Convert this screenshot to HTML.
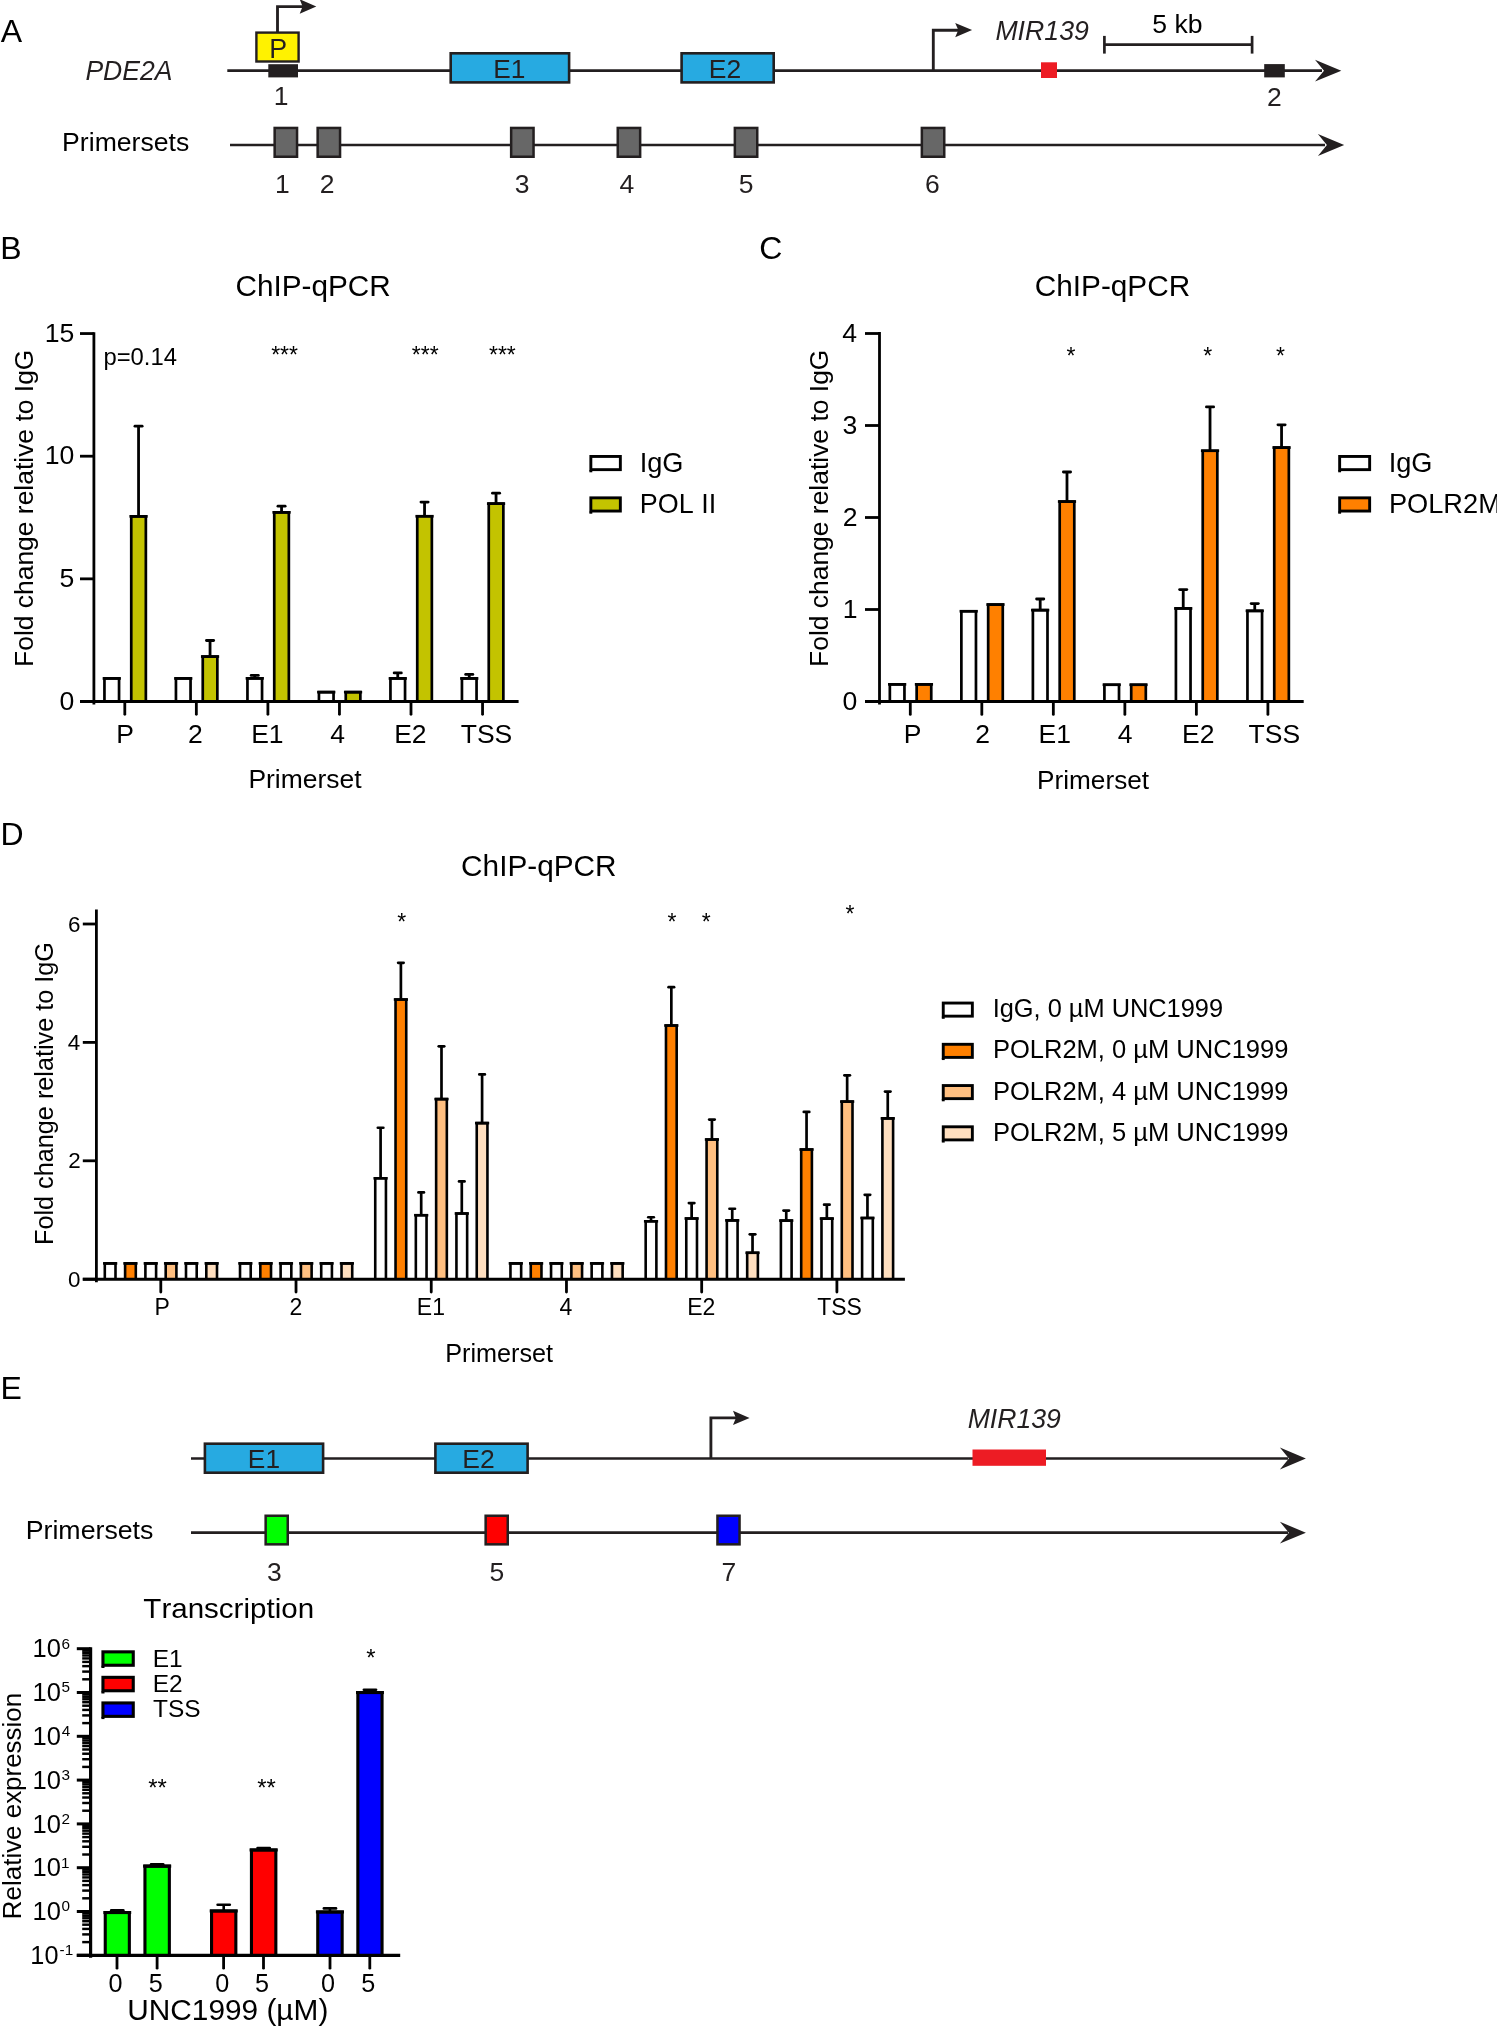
<!DOCTYPE html>
<html><head><meta charset="utf-8"><title>Figure</title>
<style>
html,body{margin:0;padding:0;background:#fff;}
body{width:1497px;height:2027px;overflow:hidden;}
svg{display:block;will-change:transform;}
text{font-family:"Liberation Sans",sans-serif;white-space:pre;font-kerning:none;}
</style></head><body>
<svg width="1497" height="2027" viewBox="0 0 1497 2027">
<rect width="1497" height="2027" fill="#fff"/>
<!-- Panel A -->
<text transform="translate(0.64 41.7) scale(1.0000 1)" font-size="32" fill="#000">A</text>
<text transform="translate(85.38 79.9) scale(0.9652 1)" font-size="27.5" font-style="italic" fill="#231f20">PDE2A</text>
<text transform="translate(62.12 150.7) scale(1.0049 1)" font-size="26.5" fill="#000">Primersets</text>
<line x1="227.3" y1="70.65" x2="1322" y2="70.65" stroke="#231f20" stroke-width="2.7" stroke-linecap="butt"/>
<path d="M1341.3 70.65 L1315 59.75 L1324 70.65 L1315 81.55Z" fill="#231f20"/>
<path d="M277.5 32 V6.55 H304" stroke="#231f20" stroke-width="2.85" fill="none" stroke-linejoin="miter"/>
<path d="M316.3 6.55 L299.7 -0.75 L302.6 6.55 L299.7 13.85Z" fill="#231f20"/>
<rect x="256.4" y="32.6" width="42.2" height="28.9" fill="#fff200" stroke="#231f20" stroke-width="2.4"/>
<text transform="translate(269.27 57.5) scale(1.0000 1)" font-size="26.8" fill="#231f20">P</text>
<rect x="268.3" y="64.2" width="29.7" height="13.2" fill="#231f20"/>
<text transform="translate(273.87 104.6) scale(1.0000 1)" font-size="26.5" fill="#231f20">1</text>
<rect x="450.7" y="53.3" width="118.4" height="29.1" fill="#27aae1" stroke="#231f20" stroke-width="2.6"/>
<text transform="translate(493.14 77.7) scale(1.0000 1)" font-size="26.3" fill="#231f20">E1</text>
<rect x="681.6" y="53.3" width="92.1" height="29.1" fill="#27aae1" stroke="#231f20" stroke-width="2.6"/>
<text transform="translate(708.77 78.3) scale(1.0000 1)" font-size="26.5" fill="#231f20">E2</text>
<path d="M933.3 70.65 V30.2 H959.5" stroke="#231f20" stroke-width="2.85" fill="none" stroke-linejoin="miter"/>
<path d="M972.1 30.1 L955.2 23 L958.3 30.1 L955.2 37.2Z" fill="#231f20"/>
<text transform="translate(995.38 39.6) scale(0.9707 1)" font-size="27.5" font-style="italic" fill="#231f20">MIR139</text>
<rect x="1041" y="62.3" width="16" height="15.7" fill="#ed1c24"/>
<line x1="1104.4" y1="44.7" x2="1252.1" y2="44.7" stroke="#231f20" stroke-width="2.7" stroke-linecap="butt"/>
<line x1="1104.4" y1="35.9" x2="1104.4" y2="53.6" stroke="#231f20" stroke-width="2.7" stroke-linecap="butt"/>
<line x1="1252.1" y1="35.9" x2="1252.1" y2="53.6" stroke="#231f20" stroke-width="2.7" stroke-linecap="butt"/>
<text transform="translate(1152.23 33.1) scale(1.0039 1)" font-size="26.5" fill="#000">5 kb</text>
<rect x="1264.2" y="64.1" width="20.6" height="13.3" fill="#231f20"/>
<text transform="translate(1267.03 106.2) scale(1.0000 1)" font-size="26.5" fill="#231f20">2</text>
<line x1="230" y1="145" x2="1325" y2="145" stroke="#231f20" stroke-width="2.7" stroke-linecap="butt"/>
<path d="M1344.2 145 L1317.9 134.1 L1326.9 145 L1317.9 155.9Z" fill="#231f20"/>
<rect x="274.65" y="127.95" width="22.4" height="28.8" fill="#676767" stroke="#231f20" stroke-width="2.5"/>
<text transform="translate(275.07 192.9) scale(1.0000 1)" font-size="26.5" fill="#231f20">1</text>
<rect x="317.65" y="127.95" width="22.4" height="28.8" fill="#676767" stroke="#231f20" stroke-width="2.5"/>
<text transform="translate(319.83 192.9) scale(1.0000 1)" font-size="26.5" fill="#231f20">2</text>
<rect x="511.15" y="127.95" width="22.4" height="28.8" fill="#676767" stroke="#231f20" stroke-width="2.5"/>
<text transform="translate(514.71 192.9) scale(1.0000 1)" font-size="26.5" fill="#231f20">3</text>
<rect x="617.75" y="127.95" width="22.4" height="28.8" fill="#676767" stroke="#231f20" stroke-width="2.5"/>
<text transform="translate(619.52 192.9) scale(1.0000 1)" font-size="26.5" fill="#231f20">4</text>
<rect x="734.85" y="127.95" width="22.4" height="28.8" fill="#676767" stroke="#231f20" stroke-width="2.5"/>
<text transform="translate(738.86 192.9) scale(1.0000 1)" font-size="26.5" fill="#231f20">5</text>
<rect x="921.85" y="127.95" width="22.4" height="28.8" fill="#676767" stroke="#231f20" stroke-width="2.5"/>
<text transform="translate(925.04 192.9) scale(1.0000 1)" font-size="26.5" fill="#231f20">6</text>
<!-- Panel B -->
<text transform="translate(0.17 259.2) scale(1.0000 1)" font-size="32" fill="#000">B</text>
<text transform="translate(235.49 295.5) scale(0.9949 1)" font-size="29.9" fill="#000">ChIP-qPCR</text>
<text transform="translate(33 666.97) rotate(-90) scale(1.0056 1)" font-size="26.3" fill="#000">Fold change relative to IgG</text>
<text transform="translate(103.46 364.7) scale(1.0095 1)" font-size="23.6" fill="#000">p=0.14</text>
<text transform="translate(271.17 363.3) scale(1.0000 1)" font-size="23" fill="#000">***</text>
<text transform="translate(411.77 363.3) scale(1.0000 1)" font-size="23" fill="#000">***</text>
<text transform="translate(488.97 363.3) scale(1.0000 1)" font-size="23" fill="#000">***</text>
<path d="M104.45 701.5 V678.45 H119.05 V701.5" fill="#fff" stroke="#000" stroke-width="2.7"/>
<line x1="102.65" y1="678.45" x2="120.85" y2="678.45" stroke="#000" stroke-width="2.7" stroke-linecap="butt"/>
<line x1="138.55" y1="426.2" x2="138.55" y2="517.7" stroke="#000" stroke-width="2.8" stroke-linecap="butt"/>
<line x1="134.95" y1="426.2" x2="142.15" y2="426.2" stroke="#000" stroke-width="2.8" stroke-linecap="round"/>
<path d="M131.25 701.5 V516.35 H145.85 V701.5" fill="#c3c300" stroke="#000" stroke-width="2.7"/>
<line x1="129.45" y1="516.35" x2="147.65" y2="516.35" stroke="#000" stroke-width="2.7" stroke-linecap="butt"/>
<path d="M175.95 701.5 V678.45 H190.55 V701.5" fill="#fff" stroke="#000" stroke-width="2.7"/>
<line x1="174.15" y1="678.45" x2="192.35" y2="678.45" stroke="#000" stroke-width="2.7" stroke-linecap="butt"/>
<line x1="210.05" y1="640.5" x2="210.05" y2="657.9" stroke="#000" stroke-width="2.8" stroke-linecap="butt"/>
<line x1="206.45" y1="640.5" x2="213.65" y2="640.5" stroke="#000" stroke-width="2.8" stroke-linecap="round"/>
<path d="M202.75 701.5 V656.55 H217.35 V701.5" fill="#c3c300" stroke="#000" stroke-width="2.7"/>
<line x1="200.95" y1="656.55" x2="219.15" y2="656.55" stroke="#000" stroke-width="2.7" stroke-linecap="butt"/>
<line x1="254.75" y1="675.4" x2="254.75" y2="679.7" stroke="#000" stroke-width="2.8" stroke-linecap="butt"/>
<line x1="251.15" y1="675.4" x2="258.35" y2="675.4" stroke="#000" stroke-width="2.8" stroke-linecap="round"/>
<path d="M247.45 701.5 V678.35 H262.05 V701.5" fill="#fff" stroke="#000" stroke-width="2.7"/>
<line x1="245.65" y1="678.35" x2="263.85" y2="678.35" stroke="#000" stroke-width="2.7" stroke-linecap="butt"/>
<line x1="281.55" y1="506.2" x2="281.55" y2="513.7" stroke="#000" stroke-width="2.8" stroke-linecap="butt"/>
<line x1="277.95" y1="506.2" x2="285.15" y2="506.2" stroke="#000" stroke-width="2.8" stroke-linecap="round"/>
<path d="M274.25 701.5 V512.35 H288.85 V701.5" fill="#c3c300" stroke="#000" stroke-width="2.7"/>
<line x1="272.45" y1="512.35" x2="290.65" y2="512.35" stroke="#000" stroke-width="2.7" stroke-linecap="butt"/>
<path d="M318.95 701.5 V692.15 H333.55 V701.5" fill="#fff" stroke="#000" stroke-width="2.7"/>
<line x1="317.15" y1="692.15" x2="335.35" y2="692.15" stroke="#000" stroke-width="2.7" stroke-linecap="butt"/>
<path d="M345.75 701.5 V692.15 H360.35 V701.5" fill="#c3c300" stroke="#000" stroke-width="2.7"/>
<line x1="343.95" y1="692.15" x2="362.15" y2="692.15" stroke="#000" stroke-width="2.7" stroke-linecap="butt"/>
<line x1="397.75" y1="672.9" x2="397.75" y2="679.8" stroke="#000" stroke-width="2.8" stroke-linecap="butt"/>
<line x1="394.15" y1="672.9" x2="401.35" y2="672.9" stroke="#000" stroke-width="2.8" stroke-linecap="round"/>
<path d="M390.45 701.5 V678.45 H405.05 V701.5" fill="#fff" stroke="#000" stroke-width="2.7"/>
<line x1="388.65" y1="678.45" x2="406.85" y2="678.45" stroke="#000" stroke-width="2.7" stroke-linecap="butt"/>
<line x1="424.55" y1="502.1" x2="424.55" y2="517.6" stroke="#000" stroke-width="2.8" stroke-linecap="butt"/>
<line x1="420.95" y1="502.1" x2="428.15" y2="502.1" stroke="#000" stroke-width="2.8" stroke-linecap="round"/>
<path d="M417.25 701.5 V516.25 H431.85 V701.5" fill="#c3c300" stroke="#000" stroke-width="2.7"/>
<line x1="415.45" y1="516.25" x2="433.65" y2="516.25" stroke="#000" stroke-width="2.7" stroke-linecap="butt"/>
<line x1="469.25" y1="674.4" x2="469.25" y2="679.8" stroke="#000" stroke-width="2.8" stroke-linecap="butt"/>
<line x1="465.65" y1="674.4" x2="472.85" y2="674.4" stroke="#000" stroke-width="2.8" stroke-linecap="round"/>
<path d="M461.95 701.5 V678.45 H476.55 V701.5" fill="#fff" stroke="#000" stroke-width="2.7"/>
<line x1="460.15" y1="678.45" x2="478.35" y2="678.45" stroke="#000" stroke-width="2.7" stroke-linecap="butt"/>
<line x1="496.05" y1="493.2" x2="496.05" y2="505" stroke="#000" stroke-width="2.8" stroke-linecap="butt"/>
<line x1="492.45" y1="493.2" x2="499.65" y2="493.2" stroke="#000" stroke-width="2.8" stroke-linecap="round"/>
<path d="M488.75 701.5 V503.65 H503.35 V701.5" fill="#c3c300" stroke="#000" stroke-width="2.7"/>
<line x1="486.95" y1="503.65" x2="505.15" y2="503.65" stroke="#000" stroke-width="2.7" stroke-linecap="butt"/>
<line x1="93.9" y1="332.15" x2="93.9" y2="704.5" stroke="#000" stroke-width="2.8" stroke-linecap="butt"/>
<line x1="80" y1="701.5" x2="518.6" y2="701.5" stroke="#000" stroke-width="3" stroke-linecap="butt"/>
<line x1="80" y1="701.5" x2="93.9" y2="701.5" stroke="#000" stroke-width="2.8" stroke-linecap="butt"/>
<text transform="translate(59.45 709.7) scale(1.0000 1)" font-size="26.6" fill="#000">0</text>
<line x1="80" y1="578.85" x2="93.9" y2="578.85" stroke="#000" stroke-width="2.8" stroke-linecap="butt"/>
<text transform="translate(59.52 587.05) scale(1.0000 1)" font-size="26.6" fill="#000">5</text>
<line x1="80" y1="456.2" x2="93.9" y2="456.2" stroke="#000" stroke-width="2.8" stroke-linecap="butt"/>
<text transform="translate(44.65 464.4) scale(1.0000 1)" font-size="26.6" fill="#000">10</text>
<line x1="80" y1="333.55" x2="93.9" y2="333.55" stroke="#000" stroke-width="2.8" stroke-linecap="butt"/>
<text transform="translate(44.73 341.75) scale(1.0000 1)" font-size="26.6" fill="#000">15</text>
<line x1="124.8" y1="702.9" x2="124.8" y2="714.3" stroke="#000" stroke-width="2.8" stroke-linecap="round"/>
<text transform="translate(116.27 743) scale(1.0000 1)" font-size="26.5" fill="#000">P</text>
<line x1="196.35" y1="702.9" x2="196.35" y2="714.3" stroke="#000" stroke-width="2.8" stroke-linecap="round"/>
<text transform="translate(187.98 743) scale(1.0000 1)" font-size="26.5" fill="#000">2</text>
<line x1="267.9" y1="702.9" x2="267.9" y2="714.3" stroke="#000" stroke-width="2.8" stroke-linecap="round"/>
<text transform="translate(251.15 743) scale(1.0000 1)" font-size="26.5" fill="#000">E1</text>
<line x1="339.45" y1="702.9" x2="339.45" y2="714.3" stroke="#000" stroke-width="2.8" stroke-linecap="round"/>
<text transform="translate(330.17 743) scale(1.0000 1)" font-size="26.5" fill="#000">4</text>
<line x1="411" y1="702.9" x2="411" y2="714.3" stroke="#000" stroke-width="2.8" stroke-linecap="round"/>
<text transform="translate(394.17 743) scale(1.0000 1)" font-size="26.5" fill="#000">E2</text>
<line x1="482.55" y1="702.9" x2="482.55" y2="714.3" stroke="#000" stroke-width="2.8" stroke-linecap="round"/>
<text transform="translate(460.69 743) scale(1.0000 1)" font-size="26.5" fill="#000">TSS</text>
<text transform="translate(248.43 787.9) scale(1.0019 1)" font-size="26.4" fill="#000">Primerset</text>
<rect x="590.85" y="456.45" width="29.5" height="13.2" fill="#fff" stroke="#000" stroke-width="2.9"/>
<line x1="590.85" y1="470.1" x2="590.85" y2="472.3" stroke="#000" stroke-width="2.9" stroke-linecap="butt"/>
<rect x="590.85" y="497.85" width="29.5" height="13.2" fill="#c3c300" stroke="#000" stroke-width="2.9"/>
<line x1="590.85" y1="511.5" x2="590.85" y2="513.7" stroke="#000" stroke-width="2.9" stroke-linecap="butt"/>
<text transform="translate(639.69 471.6) scale(1.0000 1)" font-size="27.2" fill="#000">IgG</text>
<text transform="translate(639.79 513) scale(0.9909 1)" font-size="27.2" fill="#000">POL II</text>
<!-- Panel C -->
<text transform="translate(759.27 259.2) scale(1.0000 1)" font-size="32" fill="#000">C</text>
<text transform="translate(1034.69 295.5) scale(0.9962 1)" font-size="29.9" fill="#000">ChIP-qPCR</text>
<text transform="translate(828 666.97) rotate(-90) scale(1.0056 1)" font-size="26.3" fill="#000">Fold change relative to IgG</text>
<text transform="translate(1066.42 363.8) scale(1.0000 1)" font-size="23" fill="#000">*</text>
<text transform="translate(1203.22 363.8) scale(1.0000 1)" font-size="23" fill="#000">*</text>
<text transform="translate(1276.12 363.8) scale(1.0000 1)" font-size="23" fill="#000">*</text>
<path d="M889.85 701.5 V684.35 H904.45 V701.5" fill="#fff" stroke="#000" stroke-width="2.7"/>
<line x1="888.05" y1="684.35" x2="906.25" y2="684.35" stroke="#000" stroke-width="2.7" stroke-linecap="butt"/>
<path d="M916.65 701.5 V684.35 H931.25 V701.5" fill="#ff8000" stroke="#000" stroke-width="2.7"/>
<line x1="914.85" y1="684.35" x2="933.05" y2="684.35" stroke="#000" stroke-width="2.7" stroke-linecap="butt"/>
<path d="M961.37 701.5 V611.25 H975.97 V701.5" fill="#fff" stroke="#000" stroke-width="2.7"/>
<line x1="959.57" y1="611.25" x2="977.77" y2="611.25" stroke="#000" stroke-width="2.7" stroke-linecap="butt"/>
<path d="M988.17 701.5 V604.55 H1002.77 V701.5" fill="#ff8000" stroke="#000" stroke-width="2.7"/>
<line x1="986.37" y1="604.55" x2="1004.57" y2="604.55" stroke="#000" stroke-width="2.7" stroke-linecap="butt"/>
<line x1="1040.19" y1="599" x2="1040.19" y2="611.5" stroke="#000" stroke-width="2.8" stroke-linecap="butt"/>
<line x1="1036.59" y1="599" x2="1043.79" y2="599" stroke="#000" stroke-width="2.8" stroke-linecap="round"/>
<path d="M1032.89 701.5 V610.15 H1047.49 V701.5" fill="#fff" stroke="#000" stroke-width="2.7"/>
<line x1="1031.09" y1="610.15" x2="1049.29" y2="610.15" stroke="#000" stroke-width="2.7" stroke-linecap="butt"/>
<line x1="1066.99" y1="472" x2="1066.99" y2="502.9" stroke="#000" stroke-width="2.8" stroke-linecap="butt"/>
<line x1="1063.39" y1="472" x2="1070.59" y2="472" stroke="#000" stroke-width="2.8" stroke-linecap="round"/>
<path d="M1059.69 701.5 V501.55 H1074.29 V701.5" fill="#ff8000" stroke="#000" stroke-width="2.7"/>
<line x1="1057.89" y1="501.55" x2="1076.09" y2="501.55" stroke="#000" stroke-width="2.7" stroke-linecap="butt"/>
<path d="M1104.41 701.5 V684.75 H1119.01 V701.5" fill="#fff" stroke="#000" stroke-width="2.7"/>
<line x1="1102.61" y1="684.75" x2="1120.81" y2="684.75" stroke="#000" stroke-width="2.7" stroke-linecap="butt"/>
<path d="M1131.21 701.5 V684.75 H1145.81 V701.5" fill="#ff8000" stroke="#000" stroke-width="2.7"/>
<line x1="1129.41" y1="684.75" x2="1147.61" y2="684.75" stroke="#000" stroke-width="2.7" stroke-linecap="butt"/>
<line x1="1183.23" y1="589.6" x2="1183.23" y2="609.8" stroke="#000" stroke-width="2.8" stroke-linecap="butt"/>
<line x1="1179.63" y1="589.6" x2="1186.83" y2="589.6" stroke="#000" stroke-width="2.8" stroke-linecap="round"/>
<path d="M1175.93 701.5 V608.45 H1190.53 V701.5" fill="#fff" stroke="#000" stroke-width="2.7"/>
<line x1="1174.13" y1="608.45" x2="1192.33" y2="608.45" stroke="#000" stroke-width="2.7" stroke-linecap="butt"/>
<line x1="1210.03" y1="406.9" x2="1210.03" y2="452.1" stroke="#000" stroke-width="2.8" stroke-linecap="butt"/>
<line x1="1206.43" y1="406.9" x2="1213.63" y2="406.9" stroke="#000" stroke-width="2.8" stroke-linecap="round"/>
<path d="M1202.73 701.5 V450.75 H1217.33 V701.5" fill="#ff8000" stroke="#000" stroke-width="2.7"/>
<line x1="1200.93" y1="450.75" x2="1219.13" y2="450.75" stroke="#000" stroke-width="2.7" stroke-linecap="butt"/>
<line x1="1254.75" y1="603.6" x2="1254.75" y2="612.2" stroke="#000" stroke-width="2.8" stroke-linecap="butt"/>
<line x1="1251.15" y1="603.6" x2="1258.35" y2="603.6" stroke="#000" stroke-width="2.8" stroke-linecap="round"/>
<path d="M1247.45 701.5 V610.85 H1262.05 V701.5" fill="#fff" stroke="#000" stroke-width="2.7"/>
<line x1="1245.65" y1="610.85" x2="1263.85" y2="610.85" stroke="#000" stroke-width="2.7" stroke-linecap="butt"/>
<line x1="1281.55" y1="424.8" x2="1281.55" y2="448.9" stroke="#000" stroke-width="2.8" stroke-linecap="butt"/>
<line x1="1277.95" y1="424.8" x2="1285.15" y2="424.8" stroke="#000" stroke-width="2.8" stroke-linecap="round"/>
<path d="M1274.25 701.5 V447.55 H1288.85 V701.5" fill="#ff8000" stroke="#000" stroke-width="2.7"/>
<line x1="1272.45" y1="447.55" x2="1290.65" y2="447.55" stroke="#000" stroke-width="2.7" stroke-linecap="butt"/>
<line x1="879.5" y1="332.1" x2="879.5" y2="704.5" stroke="#000" stroke-width="2.8" stroke-linecap="butt"/>
<line x1="865" y1="701.5" x2="1303.7" y2="701.5" stroke="#000" stroke-width="3" stroke-linecap="butt"/>
<line x1="865" y1="701.5" x2="879.5" y2="701.5" stroke="#000" stroke-width="2.8" stroke-linecap="butt"/>
<text transform="translate(842.45 709.7) scale(1.0000 1)" font-size="26.6" fill="#000">0</text>
<line x1="865" y1="609.5" x2="879.5" y2="609.5" stroke="#000" stroke-width="2.8" stroke-linecap="butt"/>
<text transform="translate(842.71 617.7) scale(1.0000 1)" font-size="26.6" fill="#000">1</text>
<line x1="865" y1="517.5" x2="879.5" y2="517.5" stroke="#000" stroke-width="2.8" stroke-linecap="butt"/>
<text transform="translate(842.74 525.7) scale(1.0000 1)" font-size="26.6" fill="#000">2</text>
<line x1="865" y1="425.5" x2="879.5" y2="425.5" stroke="#000" stroke-width="2.8" stroke-linecap="butt"/>
<text transform="translate(842.58 433.7) scale(1.0000 1)" font-size="26.6" fill="#000">3</text>
<line x1="865" y1="333.5" x2="879.5" y2="333.5" stroke="#000" stroke-width="2.8" stroke-linecap="butt"/>
<text transform="translate(842.19 341.7) scale(1.0000 1)" font-size="26.6" fill="#000">4</text>
<line x1="910.3" y1="702.9" x2="910.3" y2="714.4" stroke="#000" stroke-width="2.8" stroke-linecap="round"/>
<text transform="translate(903.77 743) scale(1.0000 1)" font-size="26.5" fill="#000">P</text>
<line x1="981.82" y1="702.9" x2="981.82" y2="714.4" stroke="#000" stroke-width="2.8" stroke-linecap="round"/>
<text transform="translate(975.15 743) scale(1.0000 1)" font-size="26.5" fill="#000">2</text>
<line x1="1053.34" y1="702.9" x2="1053.34" y2="714.4" stroke="#000" stroke-width="2.8" stroke-linecap="round"/>
<text transform="translate(1038.59 743) scale(1.0000 1)" font-size="26.5" fill="#000">E1</text>
<line x1="1124.86" y1="702.9" x2="1124.86" y2="714.4" stroke="#000" stroke-width="2.8" stroke-linecap="round"/>
<text transform="translate(1117.78 743) scale(1.0000 1)" font-size="26.5" fill="#000">4</text>
<line x1="1196.38" y1="702.9" x2="1196.38" y2="714.4" stroke="#000" stroke-width="2.8" stroke-linecap="round"/>
<text transform="translate(1181.95 743) scale(1.0000 1)" font-size="26.5" fill="#000">E2</text>
<line x1="1267.9" y1="702.9" x2="1267.9" y2="714.4" stroke="#000" stroke-width="2.8" stroke-linecap="round"/>
<text transform="translate(1248.54 743) scale(1.0000 1)" font-size="26.5" fill="#000">TSS</text>
<text transform="translate(1037.05 788.6) scale(0.9957 1)" font-size="26.3" fill="#000">Primerset</text>
<rect x="1339.65" y="456.45" width="30" height="13.2" fill="#fff" stroke="#000" stroke-width="2.9"/>
<line x1="1339.65" y1="470.1" x2="1339.65" y2="472.3" stroke="#000" stroke-width="2.9" stroke-linecap="butt"/>
<rect x="1339.65" y="497.85" width="30" height="13.2" fill="#ff8000" stroke="#000" stroke-width="2.9"/>
<line x1="1339.65" y1="511.5" x2="1339.65" y2="513.7" stroke="#000" stroke-width="2.9" stroke-linecap="butt"/>
<text transform="translate(1388.69 471.6) scale(1.0000 1)" font-size="27.2" fill="#000">IgG</text>
<text transform="translate(1388.97 512.7) scale(1.0000 1)" font-size="27.2" fill="#000">POLR2M</text>
<!-- Panel D -->
<text transform="translate(0.38 845.4) scale(1.0000 1)" font-size="32" fill="#000">D</text>
<text transform="translate(461.09 875.7) scale(0.9962 1)" font-size="29.9" fill="#000">ChIP-qPCR</text>
<text transform="translate(53 1244.97) rotate(-90) scale(0.9597 1)" font-size="26.3" fill="#000">Fold change relative to IgG</text>
<path d="M104.8 1279.2 V1263.4 H115.5 V1279.2" fill="#fff" stroke="#000" stroke-width="2.6"/>
<line x1="103.05" y1="1263.4" x2="117.25" y2="1263.4" stroke="#000" stroke-width="2.6" stroke-linecap="butt"/>
<path d="M125.1 1279.2 V1263.4 H135.8 V1279.2" fill="#ff8000" stroke="#000" stroke-width="2.6"/>
<line x1="123.35" y1="1263.4" x2="137.55" y2="1263.4" stroke="#000" stroke-width="2.6" stroke-linecap="butt"/>
<path d="M145.4 1279.2 V1263.4 H156.1 V1279.2" fill="#fff" stroke="#000" stroke-width="2.6"/>
<line x1="143.65" y1="1263.4" x2="157.85" y2="1263.4" stroke="#000" stroke-width="2.6" stroke-linecap="butt"/>
<path d="M165.7 1279.2 V1263.4 H176.4 V1279.2" fill="#ffbf80" stroke="#000" stroke-width="2.6"/>
<line x1="163.95" y1="1263.4" x2="178.15" y2="1263.4" stroke="#000" stroke-width="2.6" stroke-linecap="butt"/>
<path d="M186 1279.2 V1263.4 H196.7 V1279.2" fill="#fff" stroke="#000" stroke-width="2.6"/>
<line x1="184.25" y1="1263.4" x2="198.45" y2="1263.4" stroke="#000" stroke-width="2.6" stroke-linecap="butt"/>
<path d="M206.3 1279.2 V1263.4 H217 V1279.2" fill="#ffdfbf" stroke="#000" stroke-width="2.6"/>
<line x1="204.55" y1="1263.4" x2="218.75" y2="1263.4" stroke="#000" stroke-width="2.6" stroke-linecap="butt"/>
<path d="M240.02 1279.2 V1263.4 H250.72 V1279.2" fill="#fff" stroke="#000" stroke-width="2.6"/>
<line x1="238.27" y1="1263.4" x2="252.47" y2="1263.4" stroke="#000" stroke-width="2.6" stroke-linecap="butt"/>
<path d="M260.32 1279.2 V1263.4 H271.02 V1279.2" fill="#ff8000" stroke="#000" stroke-width="2.6"/>
<line x1="258.57" y1="1263.4" x2="272.77" y2="1263.4" stroke="#000" stroke-width="2.6" stroke-linecap="butt"/>
<path d="M280.62 1279.2 V1263.4 H291.32 V1279.2" fill="#fff" stroke="#000" stroke-width="2.6"/>
<line x1="278.87" y1="1263.4" x2="293.07" y2="1263.4" stroke="#000" stroke-width="2.6" stroke-linecap="butt"/>
<path d="M300.92 1279.2 V1263.4 H311.62 V1279.2" fill="#ffbf80" stroke="#000" stroke-width="2.6"/>
<line x1="299.17" y1="1263.4" x2="313.37" y2="1263.4" stroke="#000" stroke-width="2.6" stroke-linecap="butt"/>
<path d="M321.22 1279.2 V1263.4 H331.92 V1279.2" fill="#fff" stroke="#000" stroke-width="2.6"/>
<line x1="319.47" y1="1263.4" x2="333.67" y2="1263.4" stroke="#000" stroke-width="2.6" stroke-linecap="butt"/>
<path d="M341.52 1279.2 V1263.4 H352.22 V1279.2" fill="#ffdfbf" stroke="#000" stroke-width="2.6"/>
<line x1="339.77" y1="1263.4" x2="353.97" y2="1263.4" stroke="#000" stroke-width="2.6" stroke-linecap="butt"/>
<line x1="380.59" y1="1127.75" x2="380.59" y2="1179.6" stroke="#000" stroke-width="2.7" stroke-linecap="butt"/>
<line x1="377.84" y1="1127.75" x2="383.34" y2="1127.75" stroke="#000" stroke-width="2.7" stroke-linecap="round"/>
<path d="M375.24 1279.2 V1178.3 H385.94 V1279.2" fill="#fff" stroke="#000" stroke-width="2.6"/>
<line x1="373.49" y1="1178.3" x2="387.69" y2="1178.3" stroke="#000" stroke-width="2.6" stroke-linecap="butt"/>
<line x1="400.89" y1="962.85" x2="400.89" y2="1000.8" stroke="#000" stroke-width="2.7" stroke-linecap="butt"/>
<line x1="398.14" y1="962.85" x2="403.64" y2="962.85" stroke="#000" stroke-width="2.7" stroke-linecap="round"/>
<path d="M395.54 1279.2 V999.5 H406.24 V1279.2" fill="#ff8000" stroke="#000" stroke-width="2.6"/>
<line x1="393.79" y1="999.5" x2="407.99" y2="999.5" stroke="#000" stroke-width="2.6" stroke-linecap="butt"/>
<line x1="421.19" y1="1192.45" x2="421.19" y2="1216.5" stroke="#000" stroke-width="2.7" stroke-linecap="butt"/>
<line x1="418.44" y1="1192.45" x2="423.94" y2="1192.45" stroke="#000" stroke-width="2.7" stroke-linecap="round"/>
<path d="M415.84 1279.2 V1215.2 H426.54 V1279.2" fill="#fff" stroke="#000" stroke-width="2.6"/>
<line x1="414.09" y1="1215.2" x2="428.29" y2="1215.2" stroke="#000" stroke-width="2.6" stroke-linecap="butt"/>
<line x1="441.49" y1="1046.35" x2="441.49" y2="1100.4" stroke="#000" stroke-width="2.7" stroke-linecap="butt"/>
<line x1="438.74" y1="1046.35" x2="444.24" y2="1046.35" stroke="#000" stroke-width="2.7" stroke-linecap="round"/>
<path d="M436.14 1279.2 V1099.1 H446.84 V1279.2" fill="#ffbf80" stroke="#000" stroke-width="2.6"/>
<line x1="434.39" y1="1099.1" x2="448.59" y2="1099.1" stroke="#000" stroke-width="2.6" stroke-linecap="butt"/>
<line x1="461.79" y1="1181.45" x2="461.79" y2="1214.8" stroke="#000" stroke-width="2.7" stroke-linecap="butt"/>
<line x1="459.04" y1="1181.45" x2="464.54" y2="1181.45" stroke="#000" stroke-width="2.7" stroke-linecap="round"/>
<path d="M456.44 1279.2 V1213.5 H467.14 V1279.2" fill="#fff" stroke="#000" stroke-width="2.6"/>
<line x1="454.69" y1="1213.5" x2="468.89" y2="1213.5" stroke="#000" stroke-width="2.6" stroke-linecap="butt"/>
<line x1="482.09" y1="1074.45" x2="482.09" y2="1124.4" stroke="#000" stroke-width="2.7" stroke-linecap="butt"/>
<line x1="479.34" y1="1074.45" x2="484.84" y2="1074.45" stroke="#000" stroke-width="2.7" stroke-linecap="round"/>
<path d="M476.74 1279.2 V1123.1 H487.44 V1279.2" fill="#ffdfbf" stroke="#000" stroke-width="2.6"/>
<line x1="474.99" y1="1123.1" x2="489.19" y2="1123.1" stroke="#000" stroke-width="2.6" stroke-linecap="butt"/>
<path d="M510.46 1279.2 V1263.4 H521.16 V1279.2" fill="#fff" stroke="#000" stroke-width="2.6"/>
<line x1="508.71" y1="1263.4" x2="522.91" y2="1263.4" stroke="#000" stroke-width="2.6" stroke-linecap="butt"/>
<path d="M530.76 1279.2 V1263.4 H541.46 V1279.2" fill="#ff8000" stroke="#000" stroke-width="2.6"/>
<line x1="529.01" y1="1263.4" x2="543.21" y2="1263.4" stroke="#000" stroke-width="2.6" stroke-linecap="butt"/>
<path d="M551.06 1279.2 V1263.4 H561.76 V1279.2" fill="#fff" stroke="#000" stroke-width="2.6"/>
<line x1="549.31" y1="1263.4" x2="563.51" y2="1263.4" stroke="#000" stroke-width="2.6" stroke-linecap="butt"/>
<path d="M571.36 1279.2 V1263.4 H582.06 V1279.2" fill="#ffbf80" stroke="#000" stroke-width="2.6"/>
<line x1="569.61" y1="1263.4" x2="583.81" y2="1263.4" stroke="#000" stroke-width="2.6" stroke-linecap="butt"/>
<path d="M591.66 1279.2 V1263.4 H602.36 V1279.2" fill="#fff" stroke="#000" stroke-width="2.6"/>
<line x1="589.91" y1="1263.4" x2="604.11" y2="1263.4" stroke="#000" stroke-width="2.6" stroke-linecap="butt"/>
<path d="M611.96 1279.2 V1263.4 H622.66 V1279.2" fill="#ffdfbf" stroke="#000" stroke-width="2.6"/>
<line x1="610.21" y1="1263.4" x2="624.41" y2="1263.4" stroke="#000" stroke-width="2.6" stroke-linecap="butt"/>
<line x1="651.03" y1="1217.25" x2="651.03" y2="1222.6" stroke="#000" stroke-width="2.7" stroke-linecap="butt"/>
<line x1="648.28" y1="1217.25" x2="653.78" y2="1217.25" stroke="#000" stroke-width="2.7" stroke-linecap="round"/>
<path d="M645.68 1279.2 V1221.3 H656.38 V1279.2" fill="#fff" stroke="#000" stroke-width="2.6"/>
<line x1="643.93" y1="1221.3" x2="658.13" y2="1221.3" stroke="#000" stroke-width="2.6" stroke-linecap="butt"/>
<line x1="671.33" y1="987.15" x2="671.33" y2="1026.8" stroke="#000" stroke-width="2.7" stroke-linecap="butt"/>
<line x1="668.58" y1="987.15" x2="674.08" y2="987.15" stroke="#000" stroke-width="2.7" stroke-linecap="round"/>
<path d="M665.98 1279.2 V1025.5 H676.68 V1279.2" fill="#ff8000" stroke="#000" stroke-width="2.6"/>
<line x1="664.23" y1="1025.5" x2="678.43" y2="1025.5" stroke="#000" stroke-width="2.6" stroke-linecap="butt"/>
<line x1="691.63" y1="1203.05" x2="691.63" y2="1219.8" stroke="#000" stroke-width="2.7" stroke-linecap="butt"/>
<line x1="688.88" y1="1203.05" x2="694.38" y2="1203.05" stroke="#000" stroke-width="2.7" stroke-linecap="round"/>
<path d="M686.28 1279.2 V1218.5 H696.98 V1279.2" fill="#fff" stroke="#000" stroke-width="2.6"/>
<line x1="684.53" y1="1218.5" x2="698.73" y2="1218.5" stroke="#000" stroke-width="2.6" stroke-linecap="butt"/>
<line x1="711.93" y1="1119.55" x2="711.93" y2="1140.8" stroke="#000" stroke-width="2.7" stroke-linecap="butt"/>
<line x1="709.18" y1="1119.55" x2="714.68" y2="1119.55" stroke="#000" stroke-width="2.7" stroke-linecap="round"/>
<path d="M706.58 1279.2 V1139.5 H717.28 V1279.2" fill="#ffbf80" stroke="#000" stroke-width="2.6"/>
<line x1="704.83" y1="1139.5" x2="719.03" y2="1139.5" stroke="#000" stroke-width="2.6" stroke-linecap="butt"/>
<line x1="732.23" y1="1208.75" x2="732.23" y2="1221.7" stroke="#000" stroke-width="2.7" stroke-linecap="butt"/>
<line x1="729.48" y1="1208.75" x2="734.98" y2="1208.75" stroke="#000" stroke-width="2.7" stroke-linecap="round"/>
<path d="M726.88 1279.2 V1220.4 H737.58 V1279.2" fill="#fff" stroke="#000" stroke-width="2.6"/>
<line x1="725.13" y1="1220.4" x2="739.33" y2="1220.4" stroke="#000" stroke-width="2.6" stroke-linecap="butt"/>
<line x1="752.53" y1="1234.35" x2="752.53" y2="1254.1" stroke="#000" stroke-width="2.7" stroke-linecap="butt"/>
<line x1="749.78" y1="1234.35" x2="755.28" y2="1234.35" stroke="#000" stroke-width="2.7" stroke-linecap="round"/>
<path d="M747.18 1279.2 V1252.8 H757.88 V1279.2" fill="#ffdfbf" stroke="#000" stroke-width="2.6"/>
<line x1="745.43" y1="1252.8" x2="759.63" y2="1252.8" stroke="#000" stroke-width="2.6" stroke-linecap="butt"/>
<line x1="786.25" y1="1210.55" x2="786.25" y2="1221.9" stroke="#000" stroke-width="2.7" stroke-linecap="butt"/>
<line x1="783.5" y1="1210.55" x2="789" y2="1210.55" stroke="#000" stroke-width="2.7" stroke-linecap="round"/>
<path d="M780.9 1279.2 V1220.6 H791.6 V1279.2" fill="#fff" stroke="#000" stroke-width="2.6"/>
<line x1="779.15" y1="1220.6" x2="793.35" y2="1220.6" stroke="#000" stroke-width="2.6" stroke-linecap="butt"/>
<line x1="806.55" y1="1111.95" x2="806.55" y2="1150.8" stroke="#000" stroke-width="2.7" stroke-linecap="butt"/>
<line x1="803.8" y1="1111.95" x2="809.3" y2="1111.95" stroke="#000" stroke-width="2.7" stroke-linecap="round"/>
<path d="M801.2 1279.2 V1149.5 H811.9 V1279.2" fill="#ff8000" stroke="#000" stroke-width="2.6"/>
<line x1="799.45" y1="1149.5" x2="813.65" y2="1149.5" stroke="#000" stroke-width="2.6" stroke-linecap="butt"/>
<line x1="826.85" y1="1204.65" x2="826.85" y2="1219.9" stroke="#000" stroke-width="2.7" stroke-linecap="butt"/>
<line x1="824.1" y1="1204.65" x2="829.6" y2="1204.65" stroke="#000" stroke-width="2.7" stroke-linecap="round"/>
<path d="M821.5 1279.2 V1218.6 H832.2 V1279.2" fill="#fff" stroke="#000" stroke-width="2.6"/>
<line x1="819.75" y1="1218.6" x2="833.95" y2="1218.6" stroke="#000" stroke-width="2.6" stroke-linecap="butt"/>
<line x1="847.15" y1="1075.35" x2="847.15" y2="1102.9" stroke="#000" stroke-width="2.7" stroke-linecap="butt"/>
<line x1="844.4" y1="1075.35" x2="849.9" y2="1075.35" stroke="#000" stroke-width="2.7" stroke-linecap="round"/>
<path d="M841.8 1279.2 V1101.6 H852.5 V1279.2" fill="#ffbf80" stroke="#000" stroke-width="2.6"/>
<line x1="840.05" y1="1101.6" x2="854.25" y2="1101.6" stroke="#000" stroke-width="2.6" stroke-linecap="butt"/>
<line x1="867.45" y1="1194.85" x2="867.45" y2="1219.3" stroke="#000" stroke-width="2.7" stroke-linecap="butt"/>
<line x1="864.7" y1="1194.85" x2="870.2" y2="1194.85" stroke="#000" stroke-width="2.7" stroke-linecap="round"/>
<path d="M862.1 1279.2 V1218 H872.8 V1279.2" fill="#fff" stroke="#000" stroke-width="2.6"/>
<line x1="860.35" y1="1218" x2="874.55" y2="1218" stroke="#000" stroke-width="2.6" stroke-linecap="butt"/>
<line x1="887.75" y1="1091.55" x2="887.75" y2="1119.7" stroke="#000" stroke-width="2.7" stroke-linecap="butt"/>
<line x1="885" y1="1091.55" x2="890.5" y2="1091.55" stroke="#000" stroke-width="2.7" stroke-linecap="round"/>
<path d="M882.4 1279.2 V1118.4 H893.1 V1279.2" fill="#ffdfbf" stroke="#000" stroke-width="2.6"/>
<line x1="880.65" y1="1118.4" x2="894.85" y2="1118.4" stroke="#000" stroke-width="2.6" stroke-linecap="butt"/>
<text transform="translate(397.22 929.99) scale(1.0000 1)" font-size="23" fill="#000">*</text>
<text transform="translate(667.52 929.99) scale(1.0000 1)" font-size="23" fill="#000">*</text>
<text transform="translate(701.82 929.99) scale(1.0000 1)" font-size="23" fill="#000">*</text>
<text transform="translate(845.42 921.79) scale(1.0000 1)" font-size="23" fill="#000">*</text>
<line x1="96.4" y1="909.4" x2="96.4" y2="1282.2" stroke="#000" stroke-width="2.8" stroke-linecap="butt"/>
<line x1="82.8" y1="1279.2" x2="904.9" y2="1279.2" stroke="#000" stroke-width="3" stroke-linecap="butt"/>
<line x1="82.8" y1="1279.2" x2="96.4" y2="1279.2" stroke="#000" stroke-width="2.8" stroke-linecap="butt"/>
<text transform="translate(67.92 1286.7) scale(1.0000 1)" font-size="22.4" fill="#000">0</text>
<line x1="82.8" y1="1160.8" x2="96.4" y2="1160.8" stroke="#000" stroke-width="2.8" stroke-linecap="butt"/>
<text transform="translate(68.17 1168.3) scale(1.0000 1)" font-size="22.4" fill="#000">2</text>
<line x1="82.8" y1="1042.4" x2="96.4" y2="1042.4" stroke="#000" stroke-width="2.8" stroke-linecap="butt"/>
<text transform="translate(67.7 1049.9) scale(1.0000 1)" font-size="22.4" fill="#000">4</text>
<line x1="82.8" y1="924" x2="96.4" y2="924" stroke="#000" stroke-width="2.8" stroke-linecap="butt"/>
<text transform="translate(68.03 931.5) scale(1.0000 1)" font-size="22.4" fill="#000">6</text>
<line x1="160.8" y1="1280.6" x2="160.8" y2="1292.1" stroke="#000" stroke-width="2.8" stroke-linecap="round"/>
<text transform="translate(154.49 1315.4) scale(1.0000 1)" font-size="23" fill="#000">P</text>
<line x1="296.02" y1="1280.6" x2="296.02" y2="1292.1" stroke="#000" stroke-width="2.8" stroke-linecap="round"/>
<text transform="translate(289.62 1315.4) scale(1.0000 1)" font-size="23" fill="#000">2</text>
<line x1="431.24" y1="1280.6" x2="431.24" y2="1292.1" stroke="#000" stroke-width="2.8" stroke-linecap="round"/>
<text transform="translate(416.79 1315.4) scale(1.0000 1)" font-size="23" fill="#000">E1</text>
<line x1="566.46" y1="1280.6" x2="566.46" y2="1292.1" stroke="#000" stroke-width="2.8" stroke-linecap="round"/>
<text transform="translate(559.44 1315.4) scale(1.0000 1)" font-size="23" fill="#000">4</text>
<line x1="701.68" y1="1280.6" x2="701.68" y2="1292.1" stroke="#000" stroke-width="2.8" stroke-linecap="round"/>
<text transform="translate(687.25 1315.4) scale(1.0000 1)" font-size="23" fill="#000">E2</text>
<line x1="836.9" y1="1280.6" x2="836.9" y2="1292.1" stroke="#000" stroke-width="2.8" stroke-linecap="round"/>
<text transform="translate(817.2 1315.4) scale(1.0000 1)" font-size="23" fill="#000">TSS</text>
<text transform="translate(445.33 1361.9) scale(0.9994 1)" font-size="25.2" fill="#000">Primerset</text>
<rect x="943.25" y="1003.05" width="29.1" height="13.1" fill="#fff" stroke="#000" stroke-width="2.9"/>
<line x1="943.25" y1="1016.6" x2="943.25" y2="1018.8" stroke="#000" stroke-width="2.9" stroke-linecap="butt"/>
<text transform="translate(992.66 1017) scale(0.9953 1)" font-size="25.5" fill="#000">IgG, 0 µM UNC1999</text>
<rect x="943.25" y="1044.3" width="29.1" height="13.1" fill="#ff8000" stroke="#000" stroke-width="2.9"/>
<line x1="943.25" y1="1057.85" x2="943.25" y2="1060.05" stroke="#000" stroke-width="2.9" stroke-linecap="butt"/>
<text transform="translate(992.91 1058) scale(1.0014 1)" font-size="25.5" fill="#000">POLR2M, 0 µM UNC1999</text>
<rect x="943.25" y="1085.55" width="29.1" height="13.1" fill="#ffbf80" stroke="#000" stroke-width="2.9"/>
<line x1="943.25" y1="1099.1" x2="943.25" y2="1101.3" stroke="#000" stroke-width="2.9" stroke-linecap="butt"/>
<text transform="translate(992.91 1099.6) scale(1.0014 1)" font-size="25.5" fill="#000">POLR2M, 4 µM UNC1999</text>
<rect x="943.25" y="1126.8" width="29.1" height="13.1" fill="#ffdfbf" stroke="#000" stroke-width="2.9"/>
<line x1="943.25" y1="1140.35" x2="943.25" y2="1142.55" stroke="#000" stroke-width="2.9" stroke-linecap="butt"/>
<text transform="translate(992.91 1141) scale(1.0014 1)" font-size="25.5" fill="#000">POLR2M, 5 µM UNC1999</text>
<!-- Panel E -->
<text transform="translate(0.58 1399) scale(1.0000 1)" font-size="32" fill="#000">E</text>
<line x1="191" y1="1458.5" x2="1288" y2="1458.5" stroke="#231f20" stroke-width="2.7" stroke-linecap="butt"/>
<path d="M1305.9 1458.5 L1279.9 1447.6 L1288.9 1458.5 L1279.9 1469.4Z" fill="#231f20"/>
<rect x="204.9" y="1443.7" width="118.2" height="29" fill="#27aae1" stroke="#231f20" stroke-width="2.6"/>
<text transform="translate(247.84 1468) scale(1.0000 1)" font-size="26.3" fill="#231f20">E1</text>
<rect x="435.4" y="1443.7" width="92.2" height="29" fill="#27aae1" stroke="#231f20" stroke-width="2.6"/>
<text transform="translate(462.27 1468.2) scale(1.0000 1)" font-size="26.5" fill="#231f20">E2</text>
<path d="M710.9 1458.5 V1417.8 H737" stroke="#231f20" stroke-width="2.85" fill="none" stroke-linejoin="miter"/>
<path d="M749.6 1417.9 L733 1410.8 L735.9 1417.9 L733 1425Z" fill="#231f20"/>
<text transform="translate(967.68 1427.7) scale(0.9686 1)" font-size="27.5" font-style="italic" fill="#231f20">MIR139</text>
<rect x="972.5" y="1449.5" width="73.5" height="16.3" fill="#ed1c24"/>
<line x1="191" y1="1532.7" x2="1288" y2="1532.7" stroke="#231f20" stroke-width="2.7" stroke-linecap="butt"/>
<path d="M1305.9 1532.7 L1279.9 1521.8 L1288.9 1532.7 L1279.9 1543.6Z" fill="#231f20"/>
<text transform="translate(25.71 1539.1) scale(1.0052 1)" font-size="26.6" fill="#000">Primersets</text>
<rect x="265.65" y="1515.75" width="22.1" height="28.6" fill="#00ff00" stroke="#231f20" stroke-width="2.5"/>
<text transform="translate(267.11 1580.6) scale(1.0000 1)" font-size="26.5" fill="#231f20">3</text>
<rect x="485.65" y="1515.75" width="22.1" height="28.6" fill="#ff0000" stroke="#231f20" stroke-width="2.5"/>
<text transform="translate(489.56 1580.6) scale(1.0000 1)" font-size="26.5" fill="#231f20">5</text>
<rect x="717.45" y="1515.75" width="22.1" height="28.6" fill="#0000ff" stroke="#231f20" stroke-width="2.5"/>
<text transform="translate(721.62 1580.6) scale(1.0000 1)" font-size="26.5" fill="#231f20">7</text>
<text transform="translate(143.34 1618.3) scale(1.0441 1)" font-size="28.3" fill="#000">Transcription</text>
<line x1="117.3" y1="1910.4" x2="117.3" y2="1914.1" stroke="#000" stroke-width="2.6" stroke-linecap="butt"/>
<line x1="111.2" y1="1910.4" x2="123.4" y2="1910.4" stroke="#000" stroke-width="2.6" stroke-linecap="round"/>
<path d="M105.25 1955.3 V1912.55 H129.35 V1955.3" fill="#00ff00" stroke="#000" stroke-width="3.1"/>
<line x1="103.4" y1="1912.55" x2="131.2" y2="1912.55" stroke="#000" stroke-width="3.1" stroke-linecap="butt"/>
<line x1="157.15" y1="1864.3" x2="157.15" y2="1867.7" stroke="#000" stroke-width="2.6" stroke-linecap="butt"/>
<line x1="151.05" y1="1864.3" x2="163.25" y2="1864.3" stroke="#000" stroke-width="2.6" stroke-linecap="round"/>
<path d="M144.95 1955.3 V1866.15 H169.35 V1955.3" fill="#00ff00" stroke="#000" stroke-width="3.1"/>
<line x1="143.1" y1="1866.15" x2="171.2" y2="1866.15" stroke="#000" stroke-width="3.1" stroke-linecap="butt"/>
<line x1="223.7" y1="1904.7" x2="223.7" y2="1912.5" stroke="#000" stroke-width="2.6" stroke-linecap="butt"/>
<line x1="217.6" y1="1904.7" x2="229.8" y2="1904.7" stroke="#000" stroke-width="2.6" stroke-linecap="round"/>
<path d="M211.55 1955.3 V1910.95 H235.85 V1955.3" fill="#ff0000" stroke="#000" stroke-width="3.1"/>
<line x1="209.7" y1="1910.95" x2="237.7" y2="1910.95" stroke="#000" stroke-width="3.1" stroke-linecap="butt"/>
<line x1="263.65" y1="1848.1" x2="263.65" y2="1851.5" stroke="#000" stroke-width="2.6" stroke-linecap="butt"/>
<line x1="257.55" y1="1848.1" x2="269.75" y2="1848.1" stroke="#000" stroke-width="2.6" stroke-linecap="round"/>
<path d="M251.45 1955.3 V1849.95 H275.85 V1955.3" fill="#ff0000" stroke="#000" stroke-width="3.1"/>
<line x1="249.6" y1="1849.95" x2="277.7" y2="1849.95" stroke="#000" stroke-width="3.1" stroke-linecap="butt"/>
<line x1="329.95" y1="1908.4" x2="329.95" y2="1913.5" stroke="#000" stroke-width="2.6" stroke-linecap="butt"/>
<line x1="323.85" y1="1908.4" x2="336.05" y2="1908.4" stroke="#000" stroke-width="2.6" stroke-linecap="round"/>
<path d="M317.75 1955.3 V1911.95 H342.15 V1955.3" fill="#0000ff" stroke="#000" stroke-width="3.1"/>
<line x1="315.9" y1="1911.95" x2="344" y2="1911.95" stroke="#000" stroke-width="3.1" stroke-linecap="butt"/>
<line x1="369.95" y1="1689.8" x2="369.95" y2="1694.1" stroke="#000" stroke-width="2.6" stroke-linecap="butt"/>
<line x1="363.85" y1="1689.8" x2="376.05" y2="1689.8" stroke="#000" stroke-width="2.6" stroke-linecap="round"/>
<path d="M357.85 1955.3 V1692.55 H382.05 V1955.3" fill="#0000ff" stroke="#000" stroke-width="3.1"/>
<line x1="356" y1="1692.55" x2="383.9" y2="1692.55" stroke="#000" stroke-width="3.1" stroke-linecap="butt"/>
<line x1="90.6" y1="1647.3" x2="90.6" y2="1957.7" stroke="#000" stroke-width="3.2" stroke-linecap="butt"/>
<line x1="76.8" y1="1955.3" x2="400.2" y2="1955.3" stroke="#000" stroke-width="3.3" stroke-linecap="butt"/>
<line x1="76.8" y1="1955.3" x2="90.6" y2="1955.3" stroke="#000" stroke-width="3" stroke-linecap="butt"/>
<line x1="82.2" y1="1942.11" x2="90.6" y2="1942.11" stroke="#000" stroke-width="2.45" stroke-linecap="butt"/>
<line x1="82.2" y1="1934.4" x2="90.6" y2="1934.4" stroke="#000" stroke-width="2.45" stroke-linecap="butt"/>
<line x1="82.2" y1="1928.93" x2="90.6" y2="1928.93" stroke="#000" stroke-width="2.45" stroke-linecap="butt"/>
<line x1="82.2" y1="1924.69" x2="90.6" y2="1924.69" stroke="#000" stroke-width="2.45" stroke-linecap="butt"/>
<line x1="82.2" y1="1921.22" x2="90.6" y2="1921.22" stroke="#000" stroke-width="2.45" stroke-linecap="butt"/>
<line x1="82.2" y1="1918.28" x2="90.6" y2="1918.28" stroke="#000" stroke-width="2.45" stroke-linecap="butt"/>
<line x1="82.2" y1="1915.74" x2="90.6" y2="1915.74" stroke="#000" stroke-width="2.45" stroke-linecap="butt"/>
<line x1="82.2" y1="1913.5" x2="90.6" y2="1913.5" stroke="#000" stroke-width="2.45" stroke-linecap="butt"/>
<text transform="translate(30.37 1963.9) scale(1.0029 1)" font-size="25.2" fill="#000">10</text>
<text transform="translate(59.62 1955.1) scale(1.0200 1)" font-size="15" fill="#000">-1</text>
<line x1="76.8" y1="1911.5" x2="90.6" y2="1911.5" stroke="#000" stroke-width="3" stroke-linecap="butt"/>
<line x1="82.2" y1="1898.31" x2="90.6" y2="1898.31" stroke="#000" stroke-width="2.45" stroke-linecap="butt"/>
<line x1="82.2" y1="1890.6" x2="90.6" y2="1890.6" stroke="#000" stroke-width="2.45" stroke-linecap="butt"/>
<line x1="82.2" y1="1885.13" x2="90.6" y2="1885.13" stroke="#000" stroke-width="2.45" stroke-linecap="butt"/>
<line x1="82.2" y1="1880.89" x2="90.6" y2="1880.89" stroke="#000" stroke-width="2.45" stroke-linecap="butt"/>
<line x1="82.2" y1="1877.42" x2="90.6" y2="1877.42" stroke="#000" stroke-width="2.45" stroke-linecap="butt"/>
<line x1="82.2" y1="1874.48" x2="90.6" y2="1874.48" stroke="#000" stroke-width="2.45" stroke-linecap="butt"/>
<line x1="82.2" y1="1871.94" x2="90.6" y2="1871.94" stroke="#000" stroke-width="2.45" stroke-linecap="butt"/>
<line x1="82.2" y1="1869.7" x2="90.6" y2="1869.7" stroke="#000" stroke-width="2.45" stroke-linecap="butt"/>
<text transform="translate(32.56 1920.1) scale(1.0109 1)" font-size="25.2" fill="#000">10</text>
<text transform="translate(61.6 1911.3) scale(1.0200 1)" font-size="15" fill="#000">0</text>
<line x1="76.8" y1="1867.7" x2="90.6" y2="1867.7" stroke="#000" stroke-width="3" stroke-linecap="butt"/>
<line x1="82.2" y1="1854.51" x2="90.6" y2="1854.51" stroke="#000" stroke-width="2.45" stroke-linecap="butt"/>
<line x1="82.2" y1="1846.8" x2="90.6" y2="1846.8" stroke="#000" stroke-width="2.45" stroke-linecap="butt"/>
<line x1="82.2" y1="1841.33" x2="90.6" y2="1841.33" stroke="#000" stroke-width="2.45" stroke-linecap="butt"/>
<line x1="82.2" y1="1837.09" x2="90.6" y2="1837.09" stroke="#000" stroke-width="2.45" stroke-linecap="butt"/>
<line x1="82.2" y1="1833.62" x2="90.6" y2="1833.62" stroke="#000" stroke-width="2.45" stroke-linecap="butt"/>
<line x1="82.2" y1="1830.68" x2="90.6" y2="1830.68" stroke="#000" stroke-width="2.45" stroke-linecap="butt"/>
<line x1="82.2" y1="1828.14" x2="90.6" y2="1828.14" stroke="#000" stroke-width="2.45" stroke-linecap="butt"/>
<line x1="82.2" y1="1825.9" x2="90.6" y2="1825.9" stroke="#000" stroke-width="2.45" stroke-linecap="butt"/>
<text transform="translate(32.56 1876.3) scale(1.0109 1)" font-size="25.2" fill="#000">10</text>
<text transform="translate(61.03 1867.5) scale(1.0200 1)" font-size="15" fill="#000">1</text>
<line x1="76.8" y1="1823.9" x2="90.6" y2="1823.9" stroke="#000" stroke-width="3" stroke-linecap="butt"/>
<line x1="82.2" y1="1810.71" x2="90.6" y2="1810.71" stroke="#000" stroke-width="2.45" stroke-linecap="butt"/>
<line x1="82.2" y1="1803" x2="90.6" y2="1803" stroke="#000" stroke-width="2.45" stroke-linecap="butt"/>
<line x1="82.2" y1="1797.53" x2="90.6" y2="1797.53" stroke="#000" stroke-width="2.45" stroke-linecap="butt"/>
<line x1="82.2" y1="1793.29" x2="90.6" y2="1793.29" stroke="#000" stroke-width="2.45" stroke-linecap="butt"/>
<line x1="82.2" y1="1789.82" x2="90.6" y2="1789.82" stroke="#000" stroke-width="2.45" stroke-linecap="butt"/>
<line x1="82.2" y1="1786.88" x2="90.6" y2="1786.88" stroke="#000" stroke-width="2.45" stroke-linecap="butt"/>
<line x1="82.2" y1="1784.34" x2="90.6" y2="1784.34" stroke="#000" stroke-width="2.45" stroke-linecap="butt"/>
<line x1="82.2" y1="1782.1" x2="90.6" y2="1782.1" stroke="#000" stroke-width="2.45" stroke-linecap="butt"/>
<text transform="translate(32.56 1832.5) scale(1.0109 1)" font-size="25.2" fill="#000">10</text>
<text transform="translate(61.43 1823.7) scale(1.0200 1)" font-size="15" fill="#000">2</text>
<line x1="76.8" y1="1780.1" x2="90.6" y2="1780.1" stroke="#000" stroke-width="3" stroke-linecap="butt"/>
<line x1="82.2" y1="1766.91" x2="90.6" y2="1766.91" stroke="#000" stroke-width="2.45" stroke-linecap="butt"/>
<line x1="82.2" y1="1759.2" x2="90.6" y2="1759.2" stroke="#000" stroke-width="2.45" stroke-linecap="butt"/>
<line x1="82.2" y1="1753.73" x2="90.6" y2="1753.73" stroke="#000" stroke-width="2.45" stroke-linecap="butt"/>
<line x1="82.2" y1="1749.49" x2="90.6" y2="1749.49" stroke="#000" stroke-width="2.45" stroke-linecap="butt"/>
<line x1="82.2" y1="1746.02" x2="90.6" y2="1746.02" stroke="#000" stroke-width="2.45" stroke-linecap="butt"/>
<line x1="82.2" y1="1743.08" x2="90.6" y2="1743.08" stroke="#000" stroke-width="2.45" stroke-linecap="butt"/>
<line x1="82.2" y1="1740.54" x2="90.6" y2="1740.54" stroke="#000" stroke-width="2.45" stroke-linecap="butt"/>
<line x1="82.2" y1="1738.3" x2="90.6" y2="1738.3" stroke="#000" stroke-width="2.45" stroke-linecap="butt"/>
<text transform="translate(32.56 1788.7) scale(1.0109 1)" font-size="25.2" fill="#000">10</text>
<text transform="translate(61.62 1779.9) scale(1.0200 1)" font-size="15" fill="#000">3</text>
<line x1="76.8" y1="1736.3" x2="90.6" y2="1736.3" stroke="#000" stroke-width="3" stroke-linecap="butt"/>
<line x1="82.2" y1="1723.11" x2="90.6" y2="1723.11" stroke="#000" stroke-width="2.45" stroke-linecap="butt"/>
<line x1="82.2" y1="1715.4" x2="90.6" y2="1715.4" stroke="#000" stroke-width="2.45" stroke-linecap="butt"/>
<line x1="82.2" y1="1709.93" x2="90.6" y2="1709.93" stroke="#000" stroke-width="2.45" stroke-linecap="butt"/>
<line x1="82.2" y1="1705.69" x2="90.6" y2="1705.69" stroke="#000" stroke-width="2.45" stroke-linecap="butt"/>
<line x1="82.2" y1="1702.22" x2="90.6" y2="1702.22" stroke="#000" stroke-width="2.45" stroke-linecap="butt"/>
<line x1="82.2" y1="1699.28" x2="90.6" y2="1699.28" stroke="#000" stroke-width="2.45" stroke-linecap="butt"/>
<line x1="82.2" y1="1696.74" x2="90.6" y2="1696.74" stroke="#000" stroke-width="2.45" stroke-linecap="butt"/>
<line x1="82.2" y1="1694.5" x2="90.6" y2="1694.5" stroke="#000" stroke-width="2.45" stroke-linecap="butt"/>
<text transform="translate(32.56 1744.9) scale(1.0109 1)" font-size="25.2" fill="#000">10</text>
<text transform="translate(61.85 1736.1) scale(1.0200 1)" font-size="15" fill="#000">4</text>
<line x1="76.8" y1="1692.5" x2="90.6" y2="1692.5" stroke="#000" stroke-width="3" stroke-linecap="butt"/>
<line x1="82.2" y1="1679.31" x2="90.6" y2="1679.31" stroke="#000" stroke-width="2.45" stroke-linecap="butt"/>
<line x1="82.2" y1="1671.6" x2="90.6" y2="1671.6" stroke="#000" stroke-width="2.45" stroke-linecap="butt"/>
<line x1="82.2" y1="1666.13" x2="90.6" y2="1666.13" stroke="#000" stroke-width="2.45" stroke-linecap="butt"/>
<line x1="82.2" y1="1661.89" x2="90.6" y2="1661.89" stroke="#000" stroke-width="2.45" stroke-linecap="butt"/>
<line x1="82.2" y1="1658.42" x2="90.6" y2="1658.42" stroke="#000" stroke-width="2.45" stroke-linecap="butt"/>
<line x1="82.2" y1="1655.48" x2="90.6" y2="1655.48" stroke="#000" stroke-width="2.45" stroke-linecap="butt"/>
<line x1="82.2" y1="1652.94" x2="90.6" y2="1652.94" stroke="#000" stroke-width="2.45" stroke-linecap="butt"/>
<line x1="82.2" y1="1650.7" x2="90.6" y2="1650.7" stroke="#000" stroke-width="2.45" stroke-linecap="butt"/>
<text transform="translate(32.56 1701.1) scale(1.0109 1)" font-size="25.2" fill="#000">10</text>
<text transform="translate(61.59 1692.3) scale(1.0200 1)" font-size="15" fill="#000">5</text>
<line x1="76.8" y1="1648.7" x2="90.6" y2="1648.7" stroke="#000" stroke-width="3" stroke-linecap="butt"/>
<text transform="translate(32.56 1657.3) scale(1.0109 1)" font-size="25.2" fill="#000">10</text>
<text transform="translate(61.42 1648.5) scale(1.0200 1)" font-size="15" fill="#000">6</text>
<line x1="117" y1="1956.7" x2="117" y2="1968.2" stroke="#000" stroke-width="2.8" stroke-linecap="round"/>
<text transform="translate(108.39 1991.6) scale(1.0000 1)" font-size="25.2" fill="#000">0</text>
<line x1="157.1" y1="1956.7" x2="157.1" y2="1968.2" stroke="#000" stroke-width="2.8" stroke-linecap="round"/>
<text transform="translate(148.82 1991.6) scale(1.0000 1)" font-size="25.2" fill="#000">5</text>
<line x1="223.6" y1="1956.7" x2="223.6" y2="1968.2" stroke="#000" stroke-width="2.8" stroke-linecap="round"/>
<text transform="translate(215.19 1991.6) scale(1.0000 1)" font-size="25.2" fill="#000">0</text>
<line x1="263.5" y1="1956.7" x2="263.5" y2="1968.2" stroke="#000" stroke-width="2.8" stroke-linecap="round"/>
<text transform="translate(255.12 1991.6) scale(1.0000 1)" font-size="25.2" fill="#000">5</text>
<line x1="330" y1="1956.7" x2="330" y2="1968.2" stroke="#000" stroke-width="2.8" stroke-linecap="round"/>
<text transform="translate(320.99 1991.6) scale(1.0000 1)" font-size="25.2" fill="#000">0</text>
<line x1="369.8" y1="1956.7" x2="369.8" y2="1968.2" stroke="#000" stroke-width="2.8" stroke-linecap="round"/>
<text transform="translate(361.22 1991.6) scale(1.0000 1)" font-size="25.2" fill="#000">5</text>
<text transform="translate(127.2 2020.2) scale(1.0145 1)" font-size="29.4" fill="#000">UNC1999 (µM)</text>
<text transform="translate(21 1919.13) rotate(-90) scale(1.0047 1)" font-size="25.8" fill="#000">Relative expression</text>
<rect x="102.95" y="1651.85" width="30.3" height="13.4" fill="#00ff00" stroke="#000" stroke-width="3.1"/>
<line x1="102.95" y1="1665.8" x2="102.95" y2="1668" stroke="#000" stroke-width="3.1" stroke-linecap="butt"/>
<text transform="translate(152.69 1666.6) scale(1.0200 1)" font-size="24" fill="#000">E1</text>
<rect x="102.95" y="1677.35" width="30.3" height="13.4" fill="#ff0000" stroke="#000" stroke-width="3.1"/>
<line x1="102.95" y1="1691.3" x2="102.95" y2="1693.5" stroke="#000" stroke-width="3.1" stroke-linecap="butt"/>
<text transform="translate(152.69 1691.6) scale(1.0200 1)" font-size="24" fill="#000">E2</text>
<rect x="102.95" y="1702.95" width="30.3" height="13.4" fill="#0000ff" stroke="#000" stroke-width="3.1"/>
<line x1="102.95" y1="1716.9" x2="102.95" y2="1719.1" stroke="#000" stroke-width="3.1" stroke-linecap="butt"/>
<text transform="translate(153.05 1717.2) scale(1.0200 1)" font-size="24" fill="#000">TSS</text>
<text transform="translate(148.29 1796.09) scale(1.0400 1)" font-size="23" fill="#000">**</text>
<text transform="translate(257.19 1796.09) scale(1.0400 1)" font-size="23" fill="#000">**</text>
<text transform="translate(366.14 1665.79) scale(1.0400 1)" font-size="23" fill="#000">*</text>
</svg>
</body></html>
